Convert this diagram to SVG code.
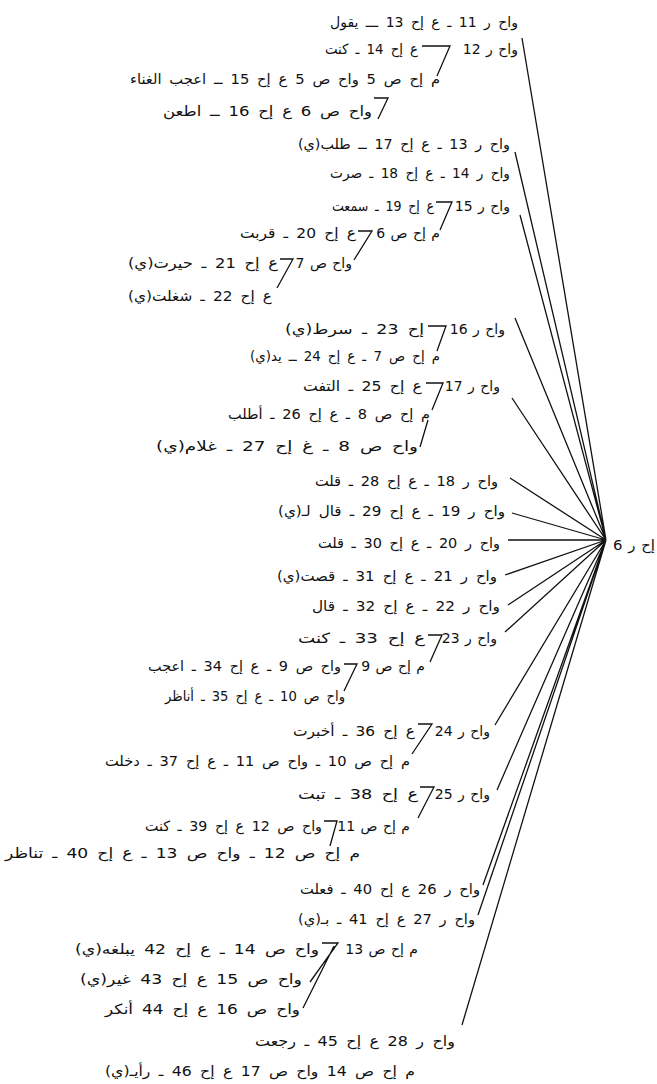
<svg xmlns="http://www.w3.org/2000/svg" width="657" height="1084" viewBox="0 0 657 1084">
<style>
text{font-family:"DejaVu Sans",sans-serif;font-size:14px;fill:#111;direction:rtl;text-anchor:start;word-spacing:3px}
text.a{word-spacing:1px}
.c{stroke:#111;stroke-width:1.3;fill:none}
.h{stroke:#111;stroke-width:1.3;fill:none}
</style>
<rect width="657" height="1084" fill="#fff"/>
<g id="connectors">
<path class="c" d="M522 38L606 540M515 152L606 540M520 215L606 540M515 318L606 540M512 398L606 540M510 478L606 540M512 513L606 540M508 540L606 540M505 575L606 540M508 605L606 540M505 632L606 540M495 725L606 540M497 790L606 540M483 885L606 540M478 915L606 540M462 1025L606 540"/>
<path class="h" d="M422 46H450L437 76M374 98H388L378 119M436 202H452L440 230M358 231H372L354 260M280 259H293L277 288M428 326H446L437 351M426 383H443L432 410M428 420L420 447M428 635H442L430 662M344 664H357L344 691M418 724H432L412 754M420 787H434L418 818M324 821H337L330 846M322 943H338L310 982M334 946L303 1008"/>
</g>
<g id="hub"><text x="655" y="550" textLength="42" lengthAdjust="spacingAndGlyphs" class="a">إح ر 6</text></g>
<g id="n1"><text x="518" y="27" textLength="188" lengthAdjust="spacingAndGlyphs">واح ر 11 ـ ع إح 13 ـــ يقول</text></g>
<g id="n2"><text x="518" y="54" class="a">واح ر 12</text><text x="418" y="54" textLength="93" lengthAdjust="spacingAndGlyphs">ع إح 14 ـ كنت</text></g>
<g id="n3"><text x="440" y="84" textLength="310" lengthAdjust="spacingAndGlyphs">م إح ص 5 واح ص 5 ع إح 15 ــ اعجب الغناء</text></g>
<g id="n4"><text x="372" y="116" textLength="209" lengthAdjust="spacingAndGlyphs">واح ص 6 ع إح 16 ــ اطعن</text></g>
<g id="n5"><text x="510" y="149" textLength="212" lengthAdjust="spacingAndGlyphs">واح ر 13 ـ ع إح 17 ــ طلب(ي)</text></g>
<g id="n6"><text x="510" y="178" textLength="180" lengthAdjust="spacingAndGlyphs">واح ر 14 ـ ع إح 18 ـ صرت</text></g>
<g id="n7"><text x="510" y="211" class="a">واح ر 15</text><text x="434" y="211" textLength="102" lengthAdjust="spacingAndGlyphs">ع إح 19 ـ سمعت</text></g>
<g id="n8"><text x="440" y="238" class="a">م إح ص 6</text><text x="356" y="238" textLength="116" lengthAdjust="spacingAndGlyphs">ع إح 20 ـ قربت</text></g>
<g id="n9"><text x="352" y="268" class="a">واح ص 7</text><text x="278" y="268" textLength="150" lengthAdjust="spacingAndGlyphs">ع إح 21 ـ حيرت(ي)</text></g>
<g id="n10"><text x="272" y="301" textLength="144" lengthAdjust="spacingAndGlyphs">ع إح 22 ـ شغلت(ي)</text></g>
<g id="n11"><text x="505" y="334" class="a">واح ر 16</text><text x="424" y="334" textLength="139" lengthAdjust="spacingAndGlyphs">إح 23 ـ سرط(ي)</text></g>
<g id="n12"><text x="440" y="361" textLength="190" lengthAdjust="spacingAndGlyphs">م إح ص 7 ـ ع إح 24 ــ يد(ي)</text></g>
<g id="n13"><text x="500" y="391" class="a">واح ر 17</text><text x="422" y="391" textLength="119" lengthAdjust="spacingAndGlyphs">ع إح 25 ـ التفت</text></g>
<g id="n14"><text x="430" y="419" textLength="202" lengthAdjust="spacingAndGlyphs">م إح ص 8 ـ ع إح 26 ـ أطلب</text></g>
<g id="n15"><text x="418" y="451" textLength="262" lengthAdjust="spacingAndGlyphs">واح ص 8 ـ غ إح 27 ـ غلام(ي)</text></g>
<g id="n16"><text x="498" y="486" textLength="183" lengthAdjust="spacingAndGlyphs">واح ر 18 ـ ع إح 28 ـ قلت</text></g>
<g id="n17"><text x="505" y="516" textLength="227" lengthAdjust="spacingAndGlyphs">واح ر 19 ـ ع إح 29 ـ قال لـ(ي)</text></g>
<g id="n18"><text x="500" y="548" textLength="182" lengthAdjust="spacingAndGlyphs">واح ر 20 ـ ع إح 30 ـ قلت</text></g>
<g id="n19"><text x="497" y="581" textLength="220" lengthAdjust="spacingAndGlyphs">واح ر 21 ـ ع إح 31 ـ قصت(ي)</text></g>
<g id="n20"><text x="500" y="611" textLength="188" lengthAdjust="spacingAndGlyphs">واح ر 22 ـ ع إح 32 ـ قال</text></g>
<g id="n21"><text x="497" y="643" class="a">واح ر 23</text><text x="425" y="643" textLength="127" lengthAdjust="spacingAndGlyphs">ع إح 33 ـ كنت</text></g>
<g id="n22"><text x="425" y="671" class="a">م إح ص 9</text><text x="341" y="671" textLength="193" lengthAdjust="spacingAndGlyphs">واح ص 9 ـ ع إح 34 ـ اعجب</text></g>
<g id="n23"><text x="345" y="701" textLength="180" lengthAdjust="spacingAndGlyphs">واح ص 10 ـ ع إح 35 ـ أناظر</text></g>
<g id="n24"><text x="490" y="736" class="a">واح ر 24</text><text x="415" y="736" textLength="122" lengthAdjust="spacingAndGlyphs">ع إح 36 ـ أخبرت</text></g>
<g id="n25"><text x="410" y="766" textLength="305" lengthAdjust="spacingAndGlyphs">م إح ص 10 ـ واح ص 11 ـ ع إح 37 ـ دخلت</text></g>
<g id="n26"><text x="490" y="799" class="a">واح ر 25</text><text x="418" y="799" textLength="120" lengthAdjust="spacingAndGlyphs">ع إح 38 ـ تبت</text></g>
<g id="n27"><text x="410" y="831" class="a">م إح ص 11</text><text x="322" y="831" textLength="177" lengthAdjust="spacingAndGlyphs">واح ص 12 ع إح 39 ـ كنت</text></g>
<g id="n28"><text x="360" y="858" textLength="355" lengthAdjust="spacingAndGlyphs">م إح ص 12 ـ واح ص 13 ـ ع إح 40 ـ تناظر</text></g>
<g id="n29"><text x="480" y="894" textLength="180" lengthAdjust="spacingAndGlyphs">واح ر 26 ع إح 40 ـ فعلت</text></g>
<g id="n30"><text x="475" y="924" textLength="177" lengthAdjust="spacingAndGlyphs">واح ر 27 ع إح 41 ـ بـ(ي)</text></g>
<g id="n31"><text x="418" y="954" class="a">م إح ص 13</text><text x="319" y="954" textLength="244" lengthAdjust="spacingAndGlyphs">واح ص 14 ـ ع إح 42 يبلغه(ي)</text></g>
<g id="n32"><text x="302" y="984" textLength="222" lengthAdjust="spacingAndGlyphs">واح ص 15 ع إح 43 غير(ي)</text></g>
<g id="n33"><text x="300" y="1014" textLength="195" lengthAdjust="spacingAndGlyphs">واح ص 16 ع إح 44 أنكر</text></g>
<g id="n34"><text x="455" y="1046" textLength="200" lengthAdjust="spacingAndGlyphs">واح ر 28 ع إح 45 ـ رجعت</text></g>
<g id="n35"><text x="415" y="1076" textLength="310" lengthAdjust="spacingAndGlyphs">م إح ص 14 واح ص 17 ع إح 46 ـ رأيـ(ي)</text></g>
</svg>
